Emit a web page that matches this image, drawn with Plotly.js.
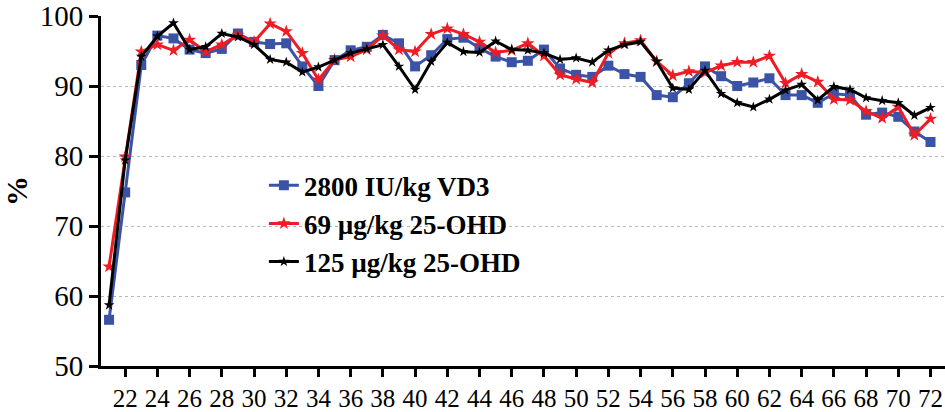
<!DOCTYPE html>
<html>
<head>
<meta charset="utf-8">
<script src="https://cdn.plot.ly/plotly-3.0.1.min.js"></script>
<style>
  html, body { margin: 0; padding: 0; background: #fff; }
  #chart { width: 945px; height: 412px; }
</style>
</head>
<body>
<div id="chart"></div>
<script>
// Age (days)
const days = [21,22,23,24,25,26,27,28,29,30,31,32,33,34,35,36,37,38,39,40,
  41,42,43,44,45,46,47,48,49,50,51,52,53,54,55,56,57,58,59,60,
  61,62,63,64,65,66,67,68,69,70,71,72];

// 2800 IU/kg VD3
const vd3 = [56.6,74.8,93.0,97.2,96.8,95.2,94.7,95.3,97.5,96.3,96.0,96.1,92.8,90.0,93.7,95.1,95.6,97.3,96.1,92.8,
  94.4,96.7,96.9,95.4,94.2,93.4,93.6,95.2,92.5,91.6,91.3,92.9,91.7,91.3,88.7,88.4,90.4,92.8,91.4,90.0,
  90.5,91.1,88.7,88.7,87.6,88.9,88.7,85.9,86.2,85.6,83.5,82.0];

// 69 µg/kg 25-OHD
const ohd69 = [64.2,79.9,94.9,95.9,95.1,96.6,94.9,95.9,97.3,96.3,98.9,97.8,94.7,90.9,93.7,94.2,95.2,97.2,95.2,94.9,
  97.4,98.2,97.4,96.3,94.8,95.1,96.1,94.3,91.6,91.0,90.5,94.7,96.1,96.5,93.5,91.5,92.1,91.9,92.9,93.4,
  93.4,94.3,90.4,91.7,90.6,88.1,88.0,86.4,85.4,87.0,83.0,85.3];

// 125 µg/kg 25-OHD
const ohd125 = [58.7,79.4,94.2,97.1,99.0,95.2,95.6,97.5,97.0,95.9,93.8,93.4,92.0,92.7,93.7,94.7,95.3,95.9,92.8,89.5,
  93.5,96.2,94.9,94.8,96.4,95.2,95.1,94.7,93.8,94.0,93.4,95.1,95.9,96.3,93.5,89.7,89.5,92.2,88.9,87.6,
  87.0,88.1,89.4,90.2,88.0,89.9,89.5,88.3,87.9,87.6,85.8,86.9];

const seriesNames = ['2800 IU/kg VD3', '69 µg/kg 25-OHD', '125 µg/kg 25-OHD'];
const yTicks = [50, 60, 70, 80, 90, 100];
const gridVals = [60, 70, 80, 90];
const xTicks = [22,24,26,28,30,32,34,36,38,40,42,44,46,48,50,52,54,56,58,60,62,64,66,68,70,72];

const FONT = 'Liberation Serif, Times New Roman, serif';

const traces = [
  {
    x: days, y: vd3, name: seriesNames[0], type: 'scatter', mode: 'lines+markers',
    line: { color: '#3b53a6', width: 3 },
    marker: { symbol: 'square', size: 10, color: '#3b53a6' }
  },
  {
    x: days, y: ohd69, name: seriesNames[1], type: 'scatter', mode: 'lines+markers',
    line: { color: '#ee1c24', width: 3 },
    marker: { symbol: 'star', size: 10, color: '#ee1c24' }
  },
  {
    x: days, y: ohd125, name: seriesNames[2], type: 'scatter', mode: 'lines+markers',
    line: { color: '#000000', width: 3 },
    marker: { symbol: 'star', size: 8, color: '#000000' }
  }
];

const layout = {
  width: 945, height: 412,
  margin: { l: 101, r: 0, t: 16, b: 46 },
  paper_bgcolor: '#fff', plot_bgcolor: '#fff',
  font: { family: FONT, color: '#000', size: 26 },
  showlegend: true,
  legend: {
    x: 0.193, y: 0.585, xanchor: 'left', yanchor: 'top',
    bgcolor: 'rgba(0,0,0,0)',
    font: { family: FONT, size: 27, color: '#000', weight: 'bold' },
    itemwidth: 30
  },
  xaxis: {
    range: [20.5, 72.9],
    tickvals: xTicks, ticktext: xTicks.map(String),
    showline: true, linecolor: '#000', linewidth: 3,
    ticks: 'outside', ticklen: 8, tickwidth: 3, tickcolor: '#000',
    showgrid: false, zeroline: false,
    tickfont: { family: FONT, size: 25, color: '#000' }
  },
  yaxis: {
    range: [50, 100],
    tickvals: yTicks, ticktext: yTicks.map(String),
    showline: true, linecolor: '#000', linewidth: 3,
    ticks: 'outside', ticklen: 9, tickwidth: 3, tickcolor: '#000',
    showgrid: false, zeroline: false,
    tickfont: { family: FONT, size: 29, color: '#000' },
    title: { text: '<b>%</b>', font: { family: FONT, size: 30, color: '#000' }, standoff: 14 }
  },
  // dotted horizontal guides at the inner ticks only
  yaxis2: {
    range: [50, 100], overlaying: 'y', side: 'left',
    tickvals: gridVals, showticklabels: false, ticks: '',
    showgrid: true, gridcolor: '#b8b8b8', gridwidth: 1, griddash: 'dot',
    showline: false, zeroline: false
  }
};

// an empty trace on the guide axis so it is rendered
traces.unshift({ x: [], y: [], yaxis: 'y2', showlegend: false, hoverinfo: 'skip', type: 'scatter' });

Plotly.newPlot('chart', traces, layout, { displayModeBar: false, staticPlot: true });
</script>
</body>
</html>
